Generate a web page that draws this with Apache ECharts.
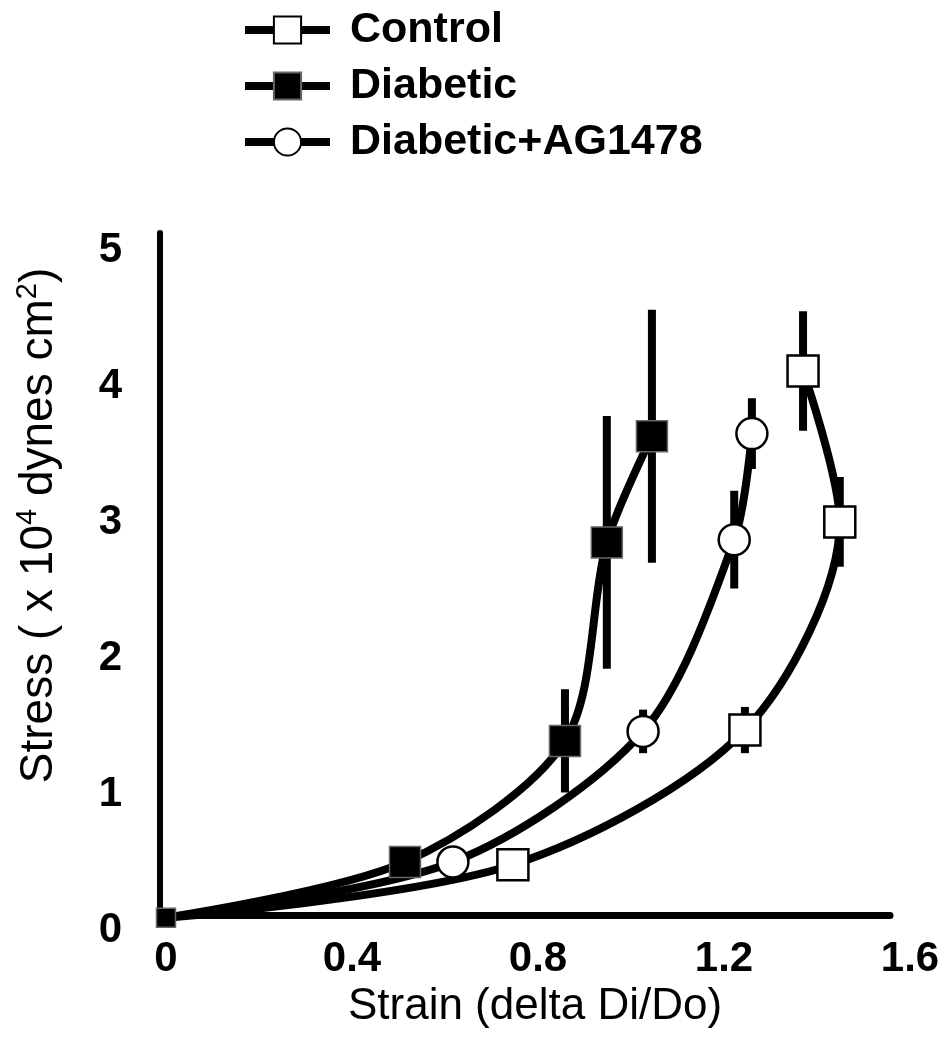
<!DOCTYPE html>
<html>
<head>
<meta charset="utf-8">
<script src="https://cdn.jsdelivr.net/npm/echarts@6/dist/echarts.min.js"></script>
<style>
  html, body { margin: 0; padding: 0; background: #ffffff; }
  #chart { width: 950px; height: 1050px; }
</style>
</head>
<body>
<div id="chart"></div>
<script>
// ---- data ----
const seriesNames = ['Control', 'Diabetic', 'Diabetic+AG1478'];

const strainControl = [0, 0.746, 1.245, 1.449, 1.370];
const stressControl = [0.09, 0.48, 1.47, 3.00, 4.11];
const errControl    = [0, 0.05, 0.17, 0.33, 0.44];

const strainDiabetic = [0, 0.514, 0.858, 0.948, 1.045];
const stressDiabetic = [0.09, 0.50, 1.39, 2.85, 3.63];
const errDiabetic    = [0, 0.05, 0.38, 0.93, 0.93];

const strainAG = [0, 0.617, 1.026, 1.222, 1.260];
const stressAG = [0.09, 0.50, 1.46, 2.87, 3.65];
const errAG    = [0, 0.04, 0.16, 0.36, 0.26];

const xTickValues = [0, 0.4, 0.8, 1.2, 1.6];
const xTickLabels = ['0', '0.4', '0.8', '1.2', '1.6'];
const yTickValues = [0, 1, 2, 3, 4, 5];
const yTickLabels = ['0', '1', '2', '3', '4', '5'];
const xMinorTicks = [0.2, 0.4, 0.6, 0.8, 1.0, 1.2, 1.4];

// ---- helpers ----
const FONT = 'Liberation Sans, Arial, Helvetica, sans-serif';

function points(xs, ys, originStyle) {
  return xs.map((x, i) => {
    const item = { value: [x, ys[i]] };
    if (i === 0) Object.assign(item, originStyle);
    return item;
  });
}
function bars(xs, ys, es) {
  const out = [];
  xs.forEach((x, i) => { if (es[i] > 0) out.push([x, ys[i] - es[i], ys[i] + es[i]]); });
  return out;
}
function errSeries(name, data) {
  return {
    name: name, type: 'custom', xAxisIndex: 0, yAxisIndex: 0, z: 1,
    silent: true, data: data, encode: { x: 0, y: [1, 2] },
    renderItem: function (params, api) {
      const p1 = api.coord([api.value(0), api.value(1)]);
      const p2 = api.coord([api.value(0), api.value(2)]);
      return { type: 'line', shape: { x1: p1[0], y1: p1[1], x2: p2[0], y2: p2[1] },
               style: { stroke: '#000', lineWidth: 8 } };
    }
  };
}
const hiddenOrigin = { symbol: 'none' };
const SMOOTH = 0.3;

const chart = echarts.init(document.getElementById('chart'), null, { renderer: 'canvas' });
chart.setOption({
  backgroundColor: '#ffffff',
  animation: false,
  textStyle: { fontFamily: FONT, color: '#000' },
  legend: {
    data: seriesNames,
    orient: 'vertical',
    left: 241, top: 8, padding: 0,
    itemWidth: 85, itemHeight: 34, itemGap: 12,
    lineStyle: { width: 8, color: '#000' },
    textStyle: { fontFamily: FONT, fontSize: 43, fontWeight: 'bold', color: '#000',
                 lineHeight: 44, padding: [0, 0, 0, 15] },
    selectedMode: false
  },
  grid: [
    { left: 160, right: 60, top: 233, bottom: 135 },
    { left: 160, right: 40, top: 233, bottom: 120 }
  ],
  xAxis: [
    { gridIndex: 0, type: 'value', min: -0.0129, max: 1.557,
      axisLine: { show: true, onZero: false, lineStyle: { color: '#000', width: 7 } },
      axisTick: { show: true, customValues: xMinorTicks, length: 4, inside: false,
                  lineStyle: { color: '#000', width: 3 } },
      axisLabel: { show: false }, splitLine: { show: false } },
    { gridIndex: 1, type: 'value', min: -0.0129, max: 1.6,
      axisLine: { show: false }, axisTick: { show: false }, splitLine: { show: false },
      axisLabel: { show: true, customValues: xTickValues, margin: 8,
                   fontFamily: FONT, fontSize: 42, fontWeight: 'bold', color: '#000',
                   showMinLabel: true, showMaxLabel: true,
                   formatter: v => xTickLabels[xTickValues.findIndex(t => Math.abs(t - v) < 1e-6)] },
      name: 'Strain (delta Di/Do)', nameLocation: 'middle', nameGap: 52,
      nameTextStyle: { fontFamily: FONT, fontSize: 44, color: '#000' } }
  ],
  yAxis: [
    { gridIndex: 0, type: 'value', min: 0.11, max: 5.125,
      axisLine: { show: true, onZero: false, lineStyle: { color: '#000', width: 6 } },
      axisTick: { show: false }, axisLabel: { show: false }, splitLine: { show: false } },
    { gridIndex: 1, type: 'value', min: 0, max: 5.125,
      axisLine: { show: false }, axisTick: { show: false }, splitLine: { show: false },
      axisLabel: { show: true, customValues: yTickValues, margin: 38,
                   fontFamily: FONT, fontSize: 42, fontWeight: 'bold', color: '#000',
                   showMinLabel: true, showMaxLabel: true,
                   formatter: v => yTickLabels[yTickValues.indexOf(Math.round(v))] },
      name: 'Stress ( x 10{sup|4} dynes cm{sup|2})',
      nameLocation: 'middle', nameGap: 95, nameRotate: 90,
      nameTextStyle: { fontFamily: FONT, fontSize: 46, color: '#000', lineHeight: 52,
        padding: [0, 0, 0, 112],
        rich: { sup: { fontFamily: FONT, fontSize: 29, lineHeight: 29, verticalAlign: 'top', color: '#000' } } } }
  ],
  series: [
    errSeries('Control err', bars(strainControl, stressControl, errControl)),
    errSeries('Diabetic err', bars(strainDiabetic, stressDiabetic, errDiabetic)),
    errSeries('AG err', bars(strainAG, stressAG, errAG)),
    {
      name: 'Control', type: 'line', xAxisIndex: 0, yAxisIndex: 0, z: 3,
      data: points(strainControl, stressControl, hiddenOrigin),
      smooth: SMOOTH, clip: false, showAllSymbol: true,
      symbol: 'rect', symbolSize: 31,
      lineStyle: { color: '#000', width: 8 },
      itemStyle: { color: '#fff', borderColor: '#000', borderWidth: 2.5 }
    },
    {
      name: 'Diabetic+AG1478', type: 'line', xAxisIndex: 0, yAxisIndex: 0, z: 3,
      data: points(strainAG, stressAG, hiddenOrigin),
      smooth: SMOOTH, clip: false, showAllSymbol: true,
      symbol: 'circle', symbolSize: 31,
      lineStyle: { color: '#000', width: 8 },
      itemStyle: { color: '#fff', borderColor: '#000', borderWidth: 2.5 }
    },
    {
      name: 'Diabetic', type: 'line', xAxisIndex: 0, yAxisIndex: 0, z: 4,
      data: points(strainDiabetic, stressDiabetic, { symbolSize: 19 }),
      smooth: SMOOTH, clip: false, showAllSymbol: true,
      symbol: 'rect', symbolSize: 31,
      lineStyle: { color: '#000', width: 8 },
      itemStyle: { color: '#000', borderColor: '#666', borderWidth: 1.5 }
    }
  ]
});
</script>
</body>
</html>
